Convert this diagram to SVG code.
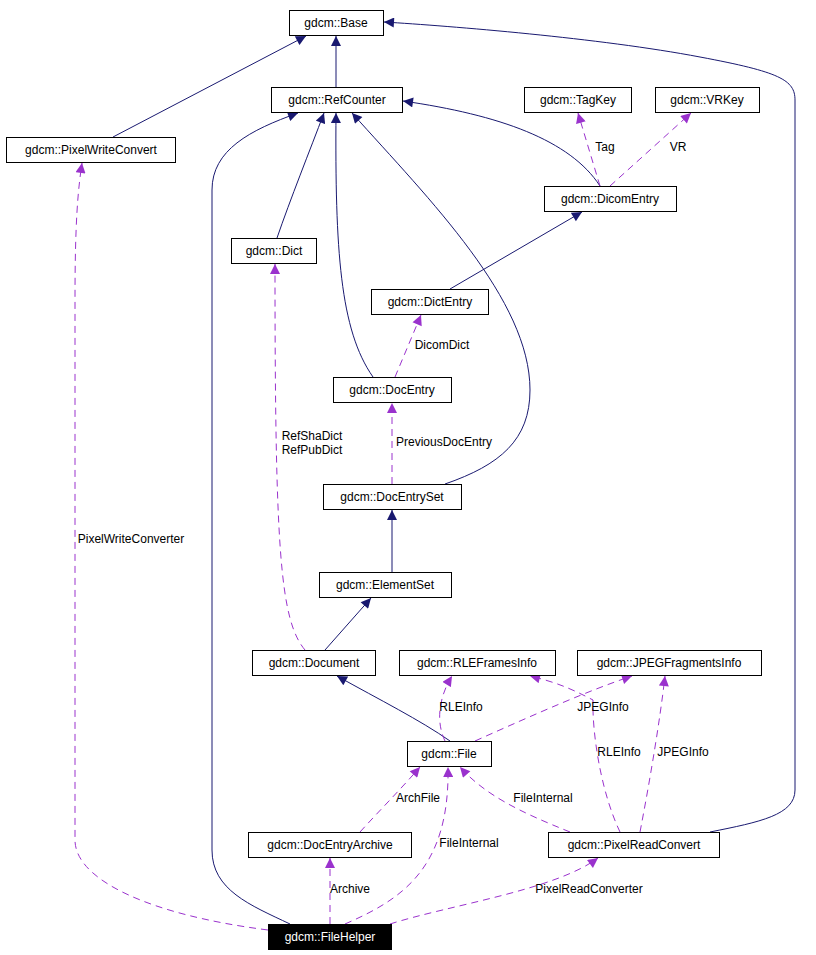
<svg xmlns="http://www.w3.org/2000/svg" width="816" height="955" viewBox="0 0 816 955">
<defs>
<marker id="an" viewBox="0 0 10 10" refX="10" refY="5" markerWidth="11" markerHeight="10" markerUnits="userSpaceOnUse" orient="auto"><path d="M0,0 L10,5 L0,10 Z" fill="#191970"/></marker>
<marker id="ap" viewBox="0 0 10 10" refX="10" refY="5" markerWidth="11" markerHeight="10" markerUnits="userSpaceOnUse" orient="auto"><path d="M0,0 L10,5 L0,10 Z" fill="#9a32cd"/></marker>
</defs>
<style>
.n rect{fill:#fff;stroke:#000;stroke-width:1}
text{font-family:"Liberation Sans",Arial,sans-serif;font-size:12px;fill:#000}
.n text{text-anchor:middle}
.s{fill:none;stroke:#191970;stroke-width:1;marker-end:url(#an)}
.d{fill:none;stroke:#9a32cd;stroke-width:1;stroke-dasharray:7,5;marker-end:url(#ap)}
.l{text-anchor:middle}
</style>
<rect width="816" height="955" fill="#fff"/>
<g id="connectors">
<path class="s" d="M336,87 L336,36"/>
<path class="s" d="M113,137 L306,36"/>
<path class="s" d="M710,832 C760,822 795,815 795,790 L795,100 C795,80 780,72 700,57 C600,38 450,26 384,22"/>
<path class="s" d="M277,238 C290,200 310,150 324,113"/>
<path class="s" d="M373,377 C340,330 335,250 336,113"/>
<path class="s" d="M445,484 C500,465 530,440 530,390 C530,300 430,200 352,113"/>
<path class="s" d="M600,186 C570,140 500,115 403,101"/>
<path class="s" d="M290,924 C250,905 212,890 212,850 L212,190 C212,150 250,130 298,113"/>
<path class="s" d="M450,289 L582,212"/>
<path class="s" d="M392,572 L392,510"/>
<path class="s" d="M325,650 L371,598"/>
<path class="s" d="M450,741 C420,720 380,700 337,676"/>
<path class="d" d="M600,186 L578,113"/>
<path class="d" d="M610,186 L691,113"/>
<path class="d" d="M395,377 L421,315"/>
<path class="d" d="M392,484 L392,403"/>
<path class="d" d="M305,650 C280,620 275,550 275,264"/>
<path class="d" d="M268,930 C150,915 75,880 75,840 L75,300 C75,220 78,190 82,163"/>
<path class="d" d="M445,741 C435,720 440,695 452,676"/>
<path class="d" d="M475,741 C540,712 590,690 632,676"/>
<path class="d" d="M620,832 C600,790 592,730 593,700 C570,688 555,682 530,676"/>
<path class="d" d="M640,832 C650,780 660,720 665,676"/>
<path class="d" d="M570,832 C520,812 485,795 460,767"/>
<path class="d" d="M360,832 C380,810 400,790 420,767"/>
<path class="d" d="M345,924 C400,900 450,870 448,767"/>
<path class="d" d="M330,924 L330,858"/>
<path class="d" d="M390,924 C450,905 555,890 598,858"/>
<text x="605" y="151" class="l">Tag</text>
<text x="678" y="151" class="l">VR</text>
<text x="442" y="349" class="l">DicomDict</text>
<text x="444" y="446" class="l">PreviousDocEntry</text>
<text x="312" y="440" class="l">RefShaDict</text>
<text x="312" y="454" class="l">RefPubDict</text>
<text x="131" y="543" class="l">PixelWriteConverter</text>
<text x="461" y="711" class="l">RLEInfo</text>
<text x="603" y="711" class="l">JPEGInfo</text>
<text x="619" y="756" class="l">RLEInfo</text>
<text x="683" y="756" class="l">JPEGInfo</text>
<text x="543" y="802" class="l">FileInternal</text>
<text x="418" y="802" class="l">ArchFile</text>
<text x="469" y="847" class="l">FileInternal</text>
<text x="350" y="893" class="l">Archive</text>
<text x="589" y="893" class="l">PixelReadConverter</text>
</g>
<g id="Base" class="n"><rect x="289.5" y="10.5" width="94" height="25"/><text x="336" y="27">gdcm::Base</text></g>
<g id="RefCounter" class="n"><rect x="271.5" y="87.5" width="131" height="25"/><text x="337" y="104">gdcm::RefCounter</text></g>
<g id="PixelWriteConvert" class="n"><rect x="6.5" y="137.5" width="169" height="25"/><text x="91" y="154">gdcm::PixelWriteConvert</text></g>
<g id="TagKey" class="n"><rect x="524.5" y="87.5" width="107" height="25"/><text x="578" y="104">gdcm::TagKey</text></g>
<g id="VRKey" class="n"><rect x="655.5" y="87.5" width="104" height="25"/><text x="707" y="104">gdcm::VRKey</text></g>
<g id="DicomEntry" class="n"><rect x="544.5" y="186.5" width="132" height="25"/><text x="610" y="203">gdcm::DicomEntry</text></g>
<g id="Dict" class="n"><rect x="231.5" y="238.5" width="85" height="25"/><text x="274" y="255">gdcm::Dict</text></g>
<g id="DictEntry" class="n"><rect x="371.5" y="289.5" width="117" height="25"/><text x="430" y="306">gdcm::DictEntry</text></g>
<g id="DocEntry" class="n"><rect x="333.5" y="377.5" width="118" height="25"/><text x="392" y="394">gdcm::DocEntry</text></g>
<g id="DocEntrySet" class="n"><rect x="323.5" y="484.5" width="138" height="25"/><text x="392" y="501">gdcm::DocEntrySet</text></g>
<g id="ElementSet" class="n"><rect x="319.5" y="572.5" width="132" height="25"/><text x="385" y="589">gdcm::ElementSet</text></g>
<g id="Document" class="n"><rect x="252.5" y="650.5" width="123" height="25"/><text x="314" y="667">gdcm::Document</text></g>
<g id="RLEFramesInfo" class="n"><rect x="399.5" y="650.5" width="156" height="25"/><text x="477" y="667">gdcm::RLEFramesInfo</text></g>
<g id="JPEGFragmentsInfo" class="n"><rect x="577.5" y="650.5" width="184" height="25"/><text x="669" y="667">gdcm::JPEGFragmentsInfo</text></g>
<g id="File" class="n"><rect x="407.5" y="741.5" width="84" height="25"/><text x="449" y="758">gdcm::File</text></g>
<g id="DocEntryArchive" class="n"><rect x="248.5" y="832.5" width="163" height="25"/><text x="330" y="849">gdcm::DocEntryArchive</text></g>
<g id="PixelReadConvert" class="n"><rect x="548.5" y="832.5" width="171" height="25"/><text x="634" y="849">gdcm::PixelReadConvert</text></g>
<g id="FileHelper"><rect x="268.5" y="924.5" width="123" height="25" fill="#000" stroke="#000"/><text x="330" y="941" text-anchor="middle" style="fill:#fff">gdcm::FileHelper</text></g>
</svg>
